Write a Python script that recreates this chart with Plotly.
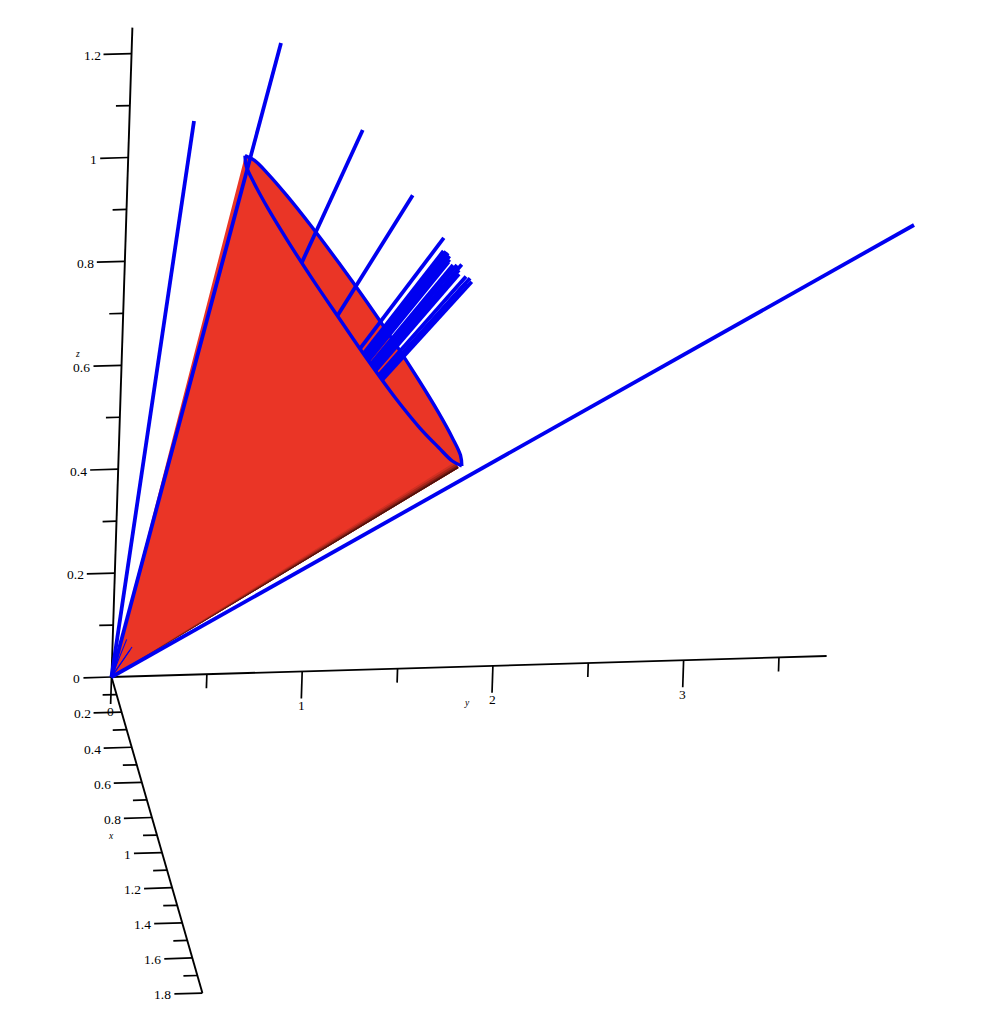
import plotly.graph_objects as go

# view of the 3d box: pixel position of the origin and of one unit on each axis
ORIGIN = (111.5, 677.0)
UX = (50.5, 175.6)
UY = (190.7, -5.6)
UZ = (16.7, -519.5)

BLUE = "#0000f0"
RED = "#ea3526"

# axes
x_end = 1.8
y_end = 3.75
z_end = 1.25

x_major = [0.2, 0.4, 0.6, 0.8, 1, 1.2, 1.4, 1.6, 1.8]
x_minor = [0.1, 0.3, 0.5, 0.7, 0.9, 1.1, 1.3, 1.5, 1.7]
x_labels = ["0.2", "0.4", "0.6", "0.8", "1", "1.2", "1.4", "1.6", "1.8"]

y_major = [0, 1, 2, 3]
y_minor = [0.5, 1.5, 2.5, 3.5]
y_labels = ["0", "1", "2", "3"]

z_major = [0, 0.2, 0.4, 0.6, 0.8, 1, 1.2]
z_minor = [0.1, 0.3, 0.5, 0.7, 0.9, 1.1]
z_labels = ["0", "0.2", "0.4", "0.6", "0.8", "1", "1.2"]

rim_back_y = [0.6127, 0.6635, 0.7377, 0.8395, 0.9689, 1.1243, 1.2752,
              1.4219, 1.5641, 1.6729, 1.7491, 1.7945, 1.8031]
rim_back_z = [0.9970, 0.9871, 0.9601, 0.9175, 0.8590, 0.7846, 0.7089,
              0.6321, 0.5539, 0.4904, 0.4414, 0.4074, 0.3868]
rim_front_y = [1.8031, 1.7525, 1.6783, 1.5768, 1.4475, 1.2918, 1.1408,
               0.9940, 0.8519, 0.7430, 0.6669, 0.6214, 0.6127]
rim_front_z = [0.3868, 0.3969, 0.4237, 0.4623, 0.5195, 0.5963, 0.6749,
               0.7518, 0.8299, 0.8934, 0.9424, 0.9764, 0.9970]

# shaded strip along the lower edge of the cone
shade_y = [1.7662, 1.7718, 1.7773, 1.7817]
shade_z = [0.3949, 0.3915, 0.3882, 0.3856]
shade_col = ["#d03022", "#a9261b", "#7a1b13", "#4a100b"]
tip_y = 1.7861
tip_z = 0.3831

# rays that leave the origin and end behind the cone's rim
bundle_y = [1.2263, 1.4997, 1.6702, 1.6708, 1.6840, 1.6948, 1.7032, 1.7038, 1.6989,
            1.7230, 1.7440, 1.7686, 1.7553, 1.7560, 1.7932, 1.8145, 1.8240, 1.7943]
bundle_z = [1.0398, 0.9111, 0.8271, 0.8020, 0.8009, 0.7980, 0.7921, 0.7854, 0.7805,
            0.7745, 0.7742, 0.7750, 0.7645, 0.7568, 0.7516, 0.7479, 0.7413, 0.7391]

# rays in front of everything
front_y = [0.3392, 0.7827, 4.136]
front_z = [1.0666, 1.2120, 0.8255]

# short ones poking through the surface at the origin
stub_y = [0.1025, 0.0734, 0.0925]
stub_z = [0.0566, 0.0717, 0.0510]


def px(x, y, z):
    return ORIGIN[0] + UX[0] * x + UY[0] * y + UZ[0] * z


def py(x, y, z):
    return ORIGIN[1] + UX[1] * x + UY[1] * y + UZ[1] * z


fig = go.Figure()


def line3(xs, ys, zs, color="black", width=1.7, shape="linear"):
    fig.add_trace(go.Scatter(
        x=[px(a, b, c) for a, b, c in zip(xs, ys, zs)],
        y=[py(a, b, c) for a, b, c in zip(xs, ys, zs)],
        mode="lines", line=dict(color=color, width=width, shape=shape),
        showlegend=False, hoverinfo="skip"))


def poly3(ys, zs, color):
    fig.add_trace(go.Scatter(
        x=[px(0, b, c) for b, c in zip(ys, zs)],
        y=[py(0, b, c) for b, c in zip(ys, zs)],
        mode="lines", fill="toself", fillcolor=color, line=dict(width=0),
        showlegend=False, hoverinfo="skip"))


def label(x, y, z, text, anchor, dx=0, dy=0, size=13.5, italic=False):
    fig.add_annotation(
        x=px(x, y, z), y=py(x, y, z), text=f"<i>{text}</i>" if italic else text,
        showarrow=False, xanchor=anchor, yanchor="middle", xshift=dx, yshift=dy,
        font=dict(family="Liberation Serif", size=size, color="black"))


# axes and ticks
line3([0, x_end], [0, 0], [0, 0], width=1.9)
line3([0, 0], [0, y_end], [0, 0], width=1.8)
line3([0, 0], [0, 0], [0, z_end], width=1.9)

for v in x_major:
    line3([v, v], [0, -0.147], [0, 0])
for v in x_minor:
    line3([v, v], [0, -0.073], [0, 0])
for v in y_major:
    line3([0, 0], [v, v], [0, -0.052])
for v in y_minor:
    line3([0, 0], [v, v], [0, -0.027])
for v in z_major:
    line3([0, 0], [0, -0.147], [v, v])
for v in z_minor:
    line3([0, 0], [0, -0.073], [v, v])

for v, t in zip(x_major, x_labels):
    label(v, -0.147, 0, t, "right", dx=-1, dy=-1)
for v, t in zip(y_major, y_labels):
    label(0, v, -0.052, t, "center", dy=-7)
for v, t in zip(z_major, z_labels):
    label(0, -0.147, v, t, "right", dx=-1, dy=-1)

label(0.9, -0.2425, 0, "x", "center", size=9.5, italic=True)
label(0, 1.871, -0.0702, "y", "center", size=9.5, italic=True)
label(0, -0.232, 0.624, "z", "center", size=9.5, italic=True)

# open end of the cone, then the rays, then the body hides them
poly3(rim_back_y + rim_front_y, rim_back_z + rim_front_z, RED)
for b, c in zip(bundle_y, bundle_z):
    line3([0, 0], [0, b], [0, c], color=BLUE, width=3.8)
poly3([0, tip_y] + rim_front_y[1:], [0, tip_z] + rim_front_z[1:], RED)
for b, c, col in zip(shade_y, shade_z, shade_col):
    poly3([0, tip_y, b], [0, tip_z, c], col)

line3([0] * len(rim_back_y), rim_back_y, rim_back_z, color=BLUE, width=3.4, shape="spline")
line3([0] * len(rim_front_y), rim_front_y, rim_front_z, color=BLUE, width=3.4, shape="spline")

for b, c in zip(front_y, front_z):
    line3([0, 0], [0, b], [0, c], color=BLUE, width=3.8)
for b, c in zip(stub_y, stub_z):
    line3([0, 0], [0, b], [0, c], color=BLUE, width=1.1)

fig.update_layout(
    width=998, height=1018,
    margin=dict(l=0, r=0, t=0, b=0),
    paper_bgcolor="white", plot_bgcolor="white",
    xaxis=dict(range=[0, 998], visible=False, fixedrange=True),
    yaxis=dict(range=[1018, 0], visible=False, fixedrange=True),
)

fig.write_html("out.html", config=dict(displayModeBar=False),
               post_script="document.body.style.margin='0';document.body.style.overflow='hidden';")
